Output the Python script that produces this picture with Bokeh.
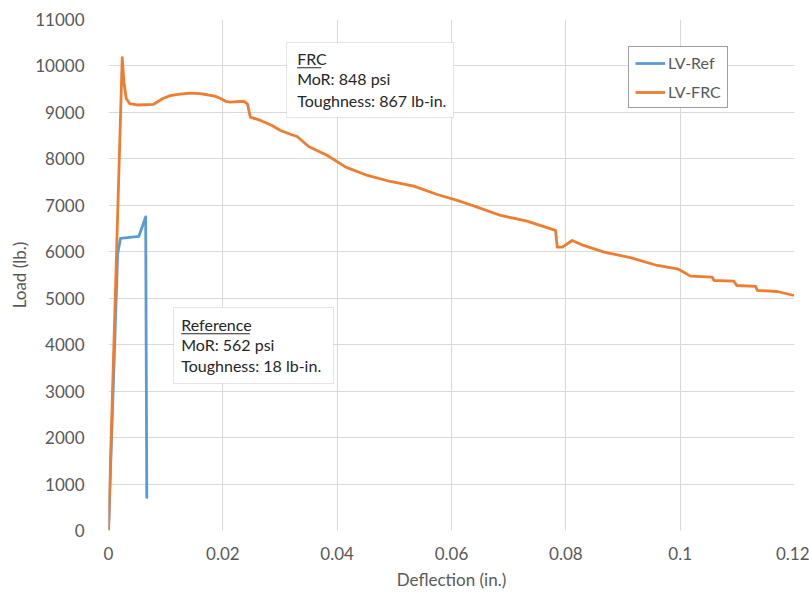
from bokeh.plotting import figure
from bokeh.models import (Range1d, Legend, LegendItem, BoxAnnotation, Label,
                          FixedTicker, ColumnDataSource)
from bokeh.embed import file_html
from bokeh.resources import INLINE

# Load–deflection curves (deflection in inches, load in lb.)
ref_deflection = [0.0, 0.0016, 0.0021, 0.0053, 0.0065, 0.0067]
ref_load = [0, 5950, 6290, 6330, 6750, 690]

frc_deflection = [0.0, 0.0024, 0.0027, 0.0031, 0.0037, 0.0050, 0.0079, 0.0095,
                  0.0108, 0.0125, 0.0143, 0.0160, 0.0173, 0.0186, 0.0196, 0.0205,
                  0.0213, 0.0237, 0.0243, 0.0248, 0.0266, 0.0286, 0.0301, 0.0318,
                  0.0330, 0.0350, 0.0383, 0.0415, 0.0453, 0.0493, 0.0534, 0.0575,
                  0.0616, 0.0645, 0.0686, 0.0732, 0.0782, 0.0785, 0.0794, 0.0811,
                  0.0831, 0.0867, 0.0913, 0.0960, 0.0995, 0.1001, 0.1018, 0.1056,
                  0.1059, 0.1094, 0.1099, 0.1132, 0.1135, 0.1170, 0.1199]
frc_load = [0, 10180, 9650, 9300, 9190, 9160, 9175, 9300,
            9360, 9395, 9415, 9405, 9380, 9350, 9300, 9240,
            9220, 9240, 9186, 8900, 8827, 8719, 8611, 8530,
            8482, 8267, 8073, 7822, 7643, 7513, 7413, 7233,
            7083, 6960, 6782, 6659, 6459, 6100, 6100, 6243,
            6136, 5993, 5873, 5705, 5633, 5597, 5475, 5454,
            5382, 5367, 5274, 5253, 5167, 5145, 5059]

series_names = ["LV-Ref", "LV-FRC"]
series_colors = ["#5B9BD5", "#ED7D31"]

x_ticks = [0, 0.02, 0.04, 0.06, 0.08, 0.1, 0.12]
x_tick_labels = ["0", "0.02", "0.04", "0.06", "0.08", "0.1", "0.12"]
y_ticks = list(range(0, 11001, 1000))

frc_note = ["FRC", "MoR: 848 psi", "Toughness: 867 lb-in."]
ref_note = ["Reference", "MoR: 562 psi", "Toughness: 18 lb-in."]

FONT = "Lato"
GREY = "#595959"
GRID = "#D9D9D9"

p = figure(width=809, height=592, output_backend="svg", toolbar_location=None,
           x_range=Range1d(0, 0.12), y_range=Range1d(0, 11000),
           min_border_left=108, min_border_right=15,
           min_border_top=19, min_border_bottom=62)
p.outline_line_color = None
p.background_fill_color = "white"
p.border_fill_color = "white"

for ax in (p.xaxis[0], p.yaxis[0]):
    ax.axis_line_color = None
    ax.major_tick_line_color = None
    ax.minor_tick_line_color = None
    ax.major_label_text_font = FONT
    ax.major_label_text_font_size = "17px"
    ax.major_label_text_color = GREY
    ax.axis_label_text_font = FONT
    ax.axis_label_text_font_size = "17px"
    ax.axis_label_text_font_style = "normal"
    ax.axis_label_text_color = GREY

p.xaxis.ticker = FixedTicker(ticks=x_ticks)
p.xaxis.major_label_overrides = {t: s for t, s in zip(x_ticks, x_tick_labels)}
p.xaxis.major_label_standoff = 10
p.xaxis.axis_label = "Deflection (in.)"
p.xaxis.axis_label_standoff = 6

p.yaxis.ticker = FixedTicker(ticks=y_ticks)
p.yaxis.major_label_standoff = 18
p.yaxis.axis_label = "Load (lb.)"
p.yaxis.axis_label_standoff = 2

p.xgrid.ticker = FixedTicker(ticks=x_ticks)
p.ygrid.ticker = FixedTicker(ticks=y_ticks)
for g in (p.xgrid[0], p.ygrid[0]):
    g.grid_line_color = GRID
    g.grid_line_width = 1

ref_src = ColumnDataSource(dict(x=ref_deflection, y=ref_load))
frc_src = ColumnDataSource(dict(x=frc_deflection, y=frc_load))
r_ref = p.line("x", "y", source=ref_src, line_color=series_colors[0],
               line_width=2.8, line_join="round")
r_frc = p.line("x", "y", source=frc_src, line_color=series_colors[1],
               line_width=2.8, line_join="round")

legend = Legend(items=[LegendItem(label=series_names[0], renderers=[r_ref]),
                       LegendItem(label=series_names[1], renderers=[r_frc])],
                location=(520, 422), orientation="vertical",
                padding=6, margin=0, spacing=10,
                glyph_width=30, glyph_height=18, label_height=18,
                label_standoff=3,
                label_text_font=FONT, label_text_font_size="16px",
                label_text_color=GREY,
                border_line_color="#404040", border_line_width=1,
                background_fill_color="white", background_fill_alpha=1)
p.add_layout(legend, "center")


def note(lines, left, right, top, bottom, tx, ys, ul_right, ul_y):
    p.add_layout(BoxAnnotation(left=left, right=right, top=top, bottom=bottom,
                               fill_color="white", fill_alpha=1,
                               line_color="#A6A6A6", line_width=1))
    for txt, yy in zip(lines, ys):
        p.add_layout(Label(x=tx, y=yy, text=txt, text_font=FONT,
                           text_font_size="16px", text_color="#262626",
                           text_baseline="middle", text_align="left"))
    # underline beneath the heading line
    p.add_layout(BoxAnnotation(left=tx, right=ul_right, top=ul_y + 12,
                               bottom=ul_y - 12, fill_color="#262626",
                               fill_alpha=1, line_color=None))


note(frc_note, 0.03114, 0.06035, 10505, 8890, 0.0330,
     [10160, 9730, 9256], 0.03721, 9960)
note(ref_note, 0.01137, 0.03936, 4800, 3164, 0.01272,
     [4434, 4004, 3552], 0.02472, 4235)

open("out.html", "w").write(file_html(p, INLINE))
